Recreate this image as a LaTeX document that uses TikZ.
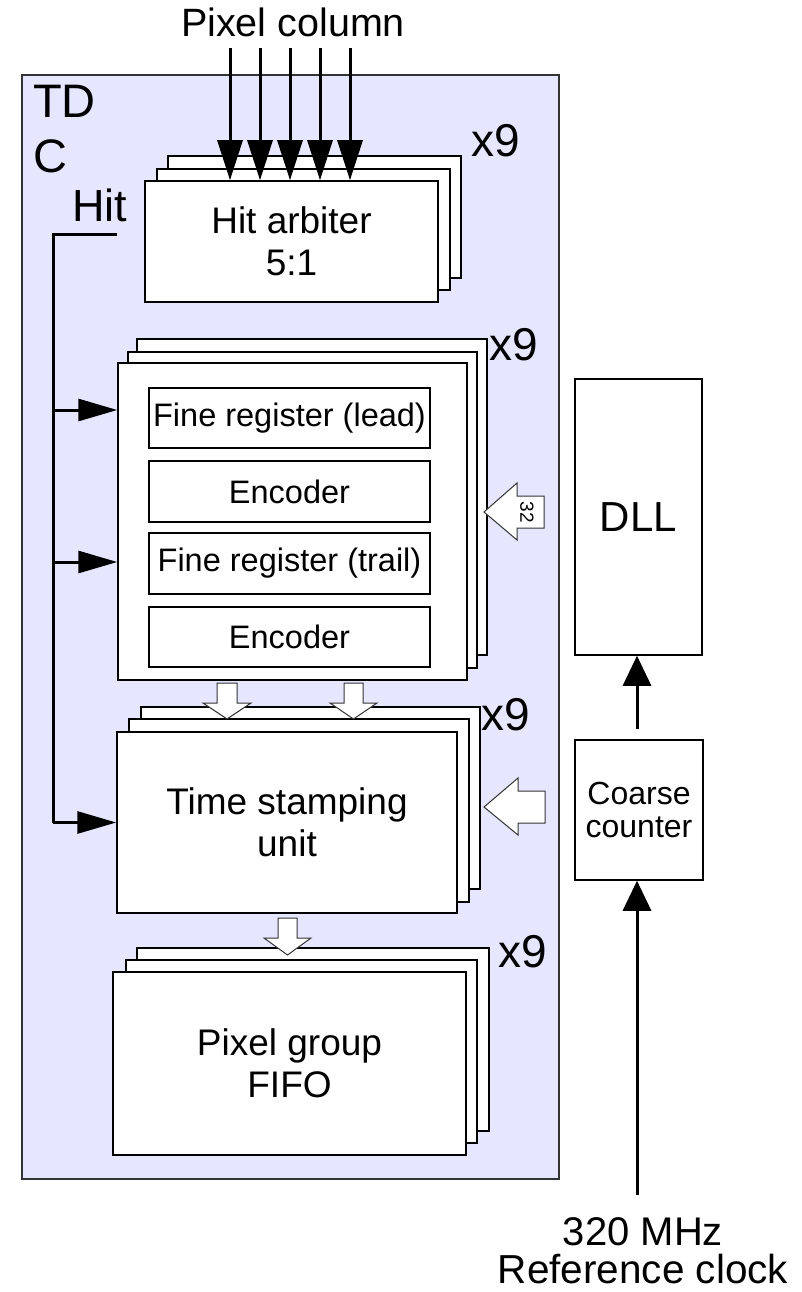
\documentclass[tikz,border=0pt]{standalone}
\usepackage{fontspec}
\setmainfont{Liberation Sans}
\usetikzlibrary{arrows.meta}
\definecolor{tdcfill}{HTML}{E6E6FF}
\definecolor{edgegray}{HTML}{333333}
\begin{document}
\begin{tikzpicture}[x=1pt,y=-1pt,
  box/.style={draw=black, fill=white, line width=1.5pt, inner sep=0pt, align=center},
  backbox/.style={draw=black, fill=white, line width=1.5pt},
  bigtxt/.style={font=\fontsize{37}{42}\selectfont},
  midtxt/.style={font=\fontsize{32.5}{33}\selectfont},
  hugetxt/.style={font=\fontsize{47}{50}\selectfont},
  ninetxt/.style={font=\fontsize{46}{48}\selectfont, inner sep=0pt},
  pcarrow/.style={line width=3pt, -{Triangle[length=40pt,width=25pt]}},
  hitarrow/.style={line width=3pt, -{Triangle[length=39pt,width=22pt]}},
  clkarrow/.style={line width=3pt, -{Triangle[length=30pt,width=28pt]}},
  hitline/.style={line width=3pt},
  blockarrow/.style={draw=edgegray, fill=white, line width=1pt, line join=miter}
]
\useasboundingbox (0,0) rectangle (801,1292);

% TDC container
\node[draw=edgegray, fill=tdcfill, line width=1.5pt, minimum width=537pt, minimum height=1104pt, inner sep=0pt] (tdc) at (290.5,627) {};
\node[hugetxt, anchor=base west, inner sep=0pt] (tdlbl) at (33,118) {TD};
\node[hugetxt, anchor=base west, inner sep=0pt] (clbl) at (33,172) {C};
\node[font=\fontsize{45}{48}\selectfont, anchor=base west, inner sep=0pt] (hitlbl) at (72,222) {Hit};

% Pixel column label
\node[font=\fontsize{39.5}{42}\selectfont, anchor=base, inner sep=0pt] (pixcol) at (293,37) {Pixel column};

% Hit arbiter stack
\draw[backbox] (168,156) rectangle (461,278);
\draw[backbox] (157,169) rectangle (450,290);
\node[box, bigtxt, minimum width=293pt, minimum height=121pt] (arb) at (291.5,241.5) {Hit arbiter\\5:1};
\node[ninetxt] (x9a) at (496,141) {x9};

% Fine register stack
\draw[backbox] (137,339) rectangle (487,655);
\draw[backbox] (128,352) rectangle (477,668);
\node[box, minimum width=349pt, minimum height=317pt] (fine) at (292.5,521.5) {};
\node[box, midtxt, minimum width=281pt, minimum height=60pt] (lead) at (289.5,418) {Fine register (lead)};
\node[box, midtxt, minimum width=281pt, minimum height=61pt] (enc1) at (289.5,491.5) {Encoder};
\node[box, midtxt, minimum width=281pt, minimum height=61pt] (trail) at (289.5,563.5) {Fine register (trail)};
\node[box, midtxt, minimum width=281pt, minimum height=60pt] (enc2) at (289.5,637) {Encoder};
\node[ninetxt] (x9b) at (514,345) {x9};

% Time stamping unit stack
\draw[backbox] (141,707) rectangle (480,889);
\draw[backbox] (129,719) rectangle (469,902);
\node[box, bigtxt, minimum width=340pt, minimum height=181pt] (tsu) at (287,822.5) {Time stamping\\unit};
\node[ninetxt] (x9c) at (506,715) {x9};

% FIFO stack
\draw[backbox] (137,948) rectangle (489,1131);
\draw[backbox] (126,960) rectangle (477,1143);
\node[box, bigtxt, minimum width=353pt, minimum height=183pt] (fifo) at (289.5,1063.5) {Pixel group\\FIFO};
\node[ninetxt] (x9d) at (523,952) {x9};

% DLL and coarse counter
\node[box, font=\fontsize{42}{46}\selectfont, minimum width=127pt, minimum height=276pt] (dll) at (638.5,517) {DLL};
\node[box, font=\fontsize{32}{33}\selectfont, minimum width=128pt, minimum height=140pt] (coarse) at (639,810) {Coarse\\counter};

% Block arrows
\draw[blockarrow] (217,683) -- (237,683) -- (237,703) -- (251,703) -- (227,719) -- (203,703) -- (217,703) -- cycle;
\draw[blockarrow] (344,683) -- (363,683) -- (363,703) -- (377,703) -- (353.5,719) -- (330,703) -- (344,703) -- cycle;
\draw[blockarrow] (278,918) -- (297,918) -- (297,938) -- (311,938) -- (287.5,955) -- (264,938) -- (278,938) -- cycle;
\draw[blockarrow] (544,496) -- (544,528) -- (517,528) -- (517,540) -- (484,512) -- (517,483) -- (517,496) -- cycle;
\node[font=\fontsize{19}{20}\selectfont, rotate=-90, inner sep=0pt] (n32) at (527,512) {32};
\draw[blockarrow] (545,791) -- (545,823) -- (518,823) -- (518,835) -- (484,807) -- (518,778) -- (518,791) -- cycle;

% Pixel column arrows
\foreach \i/\xx in {1/230,2/260,3/290,4/320,5/350} {
  \coordinate (pc\i) at (\xx,48);
  \draw[pcarrow] (pc\i) -- (pc\i |- arb.north);
}

% Hit distribution
\coordinate (hitA) at (117,234);
\coordinate (hitB) at (53,234);
\coordinate (j1) at (53,410);
\coordinate (j2) at (53,562);
\draw[hitline] (hitA) -- (hitB) -- (hitB |- tsu.west);
\draw[hitarrow] (hitB |- tsu.west) -- (tsu.west);
\draw[hitarrow] (j1) -- (j1 -| fine.west);
\draw[hitarrow] (j2) -- (j2 -| fine.west);

% Clock path
\coordinate (clk) at (637,1195);
\draw[clkarrow] (clk) -- (clk |- coarse.south);
\draw[clkarrow, shorten <=10pt] (coarse.north -| clk) -- (clk |- dll.south);

\node[font=\fontsize{40}{41}\selectfont, anchor=base, inner sep=0pt] (mhz) at (643,1245) {320 MHz};
\node[font=\fontsize{40.5}{41}\selectfont, anchor=base, inner sep=0pt] (refclk) at (643,1283) {Reference clock};
\end{tikzpicture}
\end{document}
